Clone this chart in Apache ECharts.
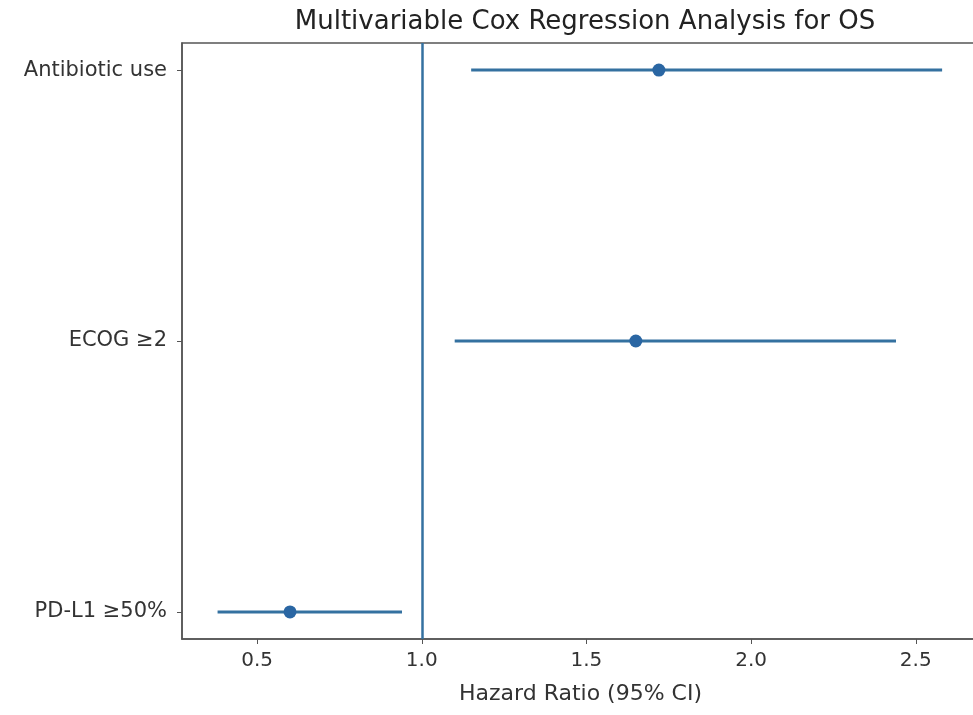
<!DOCTYPE html>
<html>
<head>
<meta charset="utf-8">
<script src="https://cdn.jsdelivr.net/npm/echarts@6/dist/echarts.min.js"></script>
<style>html,body{margin:0;padding:0;background:#fff;overflow:hidden}#c{width:973px;height:715px}</style>
</head>
<body>
<div id="c"></div>
<script>
var categories = ['PD-L1 \u226550%', 'ECOG \u22652', 'Antibiotic use'];
var hazardRatios = [0.60, 1.65, 1.72];
var ciLower = [0.38, 1.10, 1.15];
var ciUpper = [0.94, 2.44, 2.58];
var xTicks = [0.5, 1.0, 1.5, 2.0, 2.5];
var refValue = 1.0;

var chart = echarts.init(document.getElementById('c'));
var ciData = categories.map(function (c, i) { return [ciLower[i], ciUpper[i], i]; });
var ptData = categories.map(function (c, i) { return [hazardRatios[i], i]; });
var lineColor = '#3471a0';
var dotColor = '#2a66a3';
var font = 'DejaVu Sans';

chart.setOption({
  animation: false,
  title: {
    text: 'Multivariable Cox Regression Analysis for OS',
    left: 580, top: 4, textAlign: 'center',
    textStyle: { fontFamily: font, fontSize: 26, fontWeight: 'normal', color: '#222' }
  },
  grid: { left: 182, right: -6, top: 43, bottom: 76, outerBoundsMode: 'none', containLabel: false,
    show: true, borderColor: '#555', borderWidth: 1.5, backgroundColor: 'transparent' },
  xAxis: {
    type: 'value', min: 0.272, max: 2.692,
    name: 'Hazard Ratio (95% CI)', nameLocation: 'middle', nameGap: 44,
    nameTextStyle: { fontFamily: font, fontSize: 22, color: '#333' },
    splitLine: { show: false },
    axisLine: { show: true, onZero: false, lineStyle: { color: '#555', width: 1.5 } },
    axisTick: { show: true, length: 5, customValues: xTicks, lineStyle: { color: '#555' } },
    axisLabel: { customValues: xTicks, fontFamily: font, fontSize: 20, color: '#333', margin: 12,
      formatter: function (v) { return v.toFixed(1); } }
  },
  yAxis: {
    type: 'value', min: -0.1, max: 2.1,
    splitLine: { show: false },
    axisLine: { show: true, onZero: false, lineStyle: { color: '#555', width: 1.5 } },
    axisTick: { show: true, length: 5, customValues: [0, 1, 2], lineStyle: { color: '#555' } },
    axisLabel: { customValues: [0, 1, 2], fontFamily: font, fontSize: 21, color: '#333', margin: 15,
      formatter: function (v) { return categories[Math.round(v)] || ''; } }
  },
  series: [
    {
      type: 'custom',
      data: ciData,
      encode: { x: [0, 1], y: 2 },
      renderItem: function (params, api) {
        var p1 = api.coord([api.value(0), api.value(2)]);
        var p2 = api.coord([api.value(1), api.value(2)]);
        return { type: 'line', shape: { x1: p1[0], y1: p1[1], x2: p2[0], y2: p2[1] },
          style: { stroke: lineColor, lineWidth: 3 } };
      },
      z: 2
    },
    {
      type: 'scatter',
      data: ptData,
      symbolSize: 13,
      itemStyle: { color: dotColor, opacity: 1 },
      z: 3,
      markLine: {
        silent: true, symbol: 'none', label: { show: false },
        lineStyle: { color: lineColor, width: 2.5, type: 'solid' },
        data: [{ xAxis: refValue }]
      }
    }
  ]
});
</script>
</body>
</html>
